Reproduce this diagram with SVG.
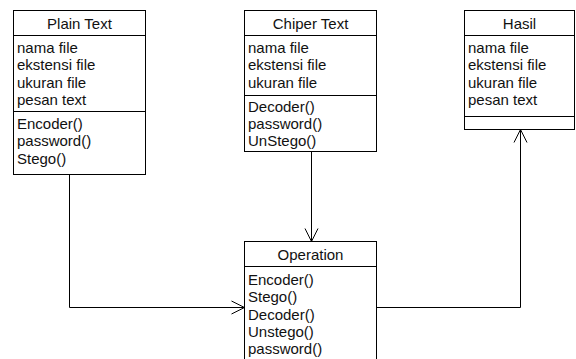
<svg xmlns="http://www.w3.org/2000/svg" width="576" height="359" viewBox="0 0 576 359">
  <style>
    .box { fill: #ffffff; stroke: #000000; stroke-width: 1; }
    .div { stroke: #000000; stroke-width: 1; fill: none; }
    .title { font-family: "Liberation Sans", Arial, sans-serif; font-size: 15px; fill: #111111; text-anchor: middle; }
    .item { font-family: "Liberation Sans", Arial, sans-serif; font-size: 15px; fill: #111111; }
    .link { stroke: #000000; stroke-width: 1; fill: none; }
  </style>
  <defs>
    <marker id="open" markerUnits="userSpaceOnUse" markerWidth="16" markerHeight="16" refX="0" refY="0" viewBox="-15 -8 16 16" orient="auto" overflow="visible">
      <path d="M-13,-6.5 L0,0 L-13,6.5" fill="none" stroke="#000000" stroke-width="1"/>
    </marker>
  </defs>

  <rect width="576" height="359" fill="#ffffff"/>

  <!-- connectors -->
  <g id="connectors">
    <path class="link" d="M69.5,174.5 V307.5 H244.5" marker-end="url(#open)"/>
    <path class="link" d="M311.5,151.5 V241.5" marker-end="url(#open)"/>
    <path class="link" d="M376.5,307.5 H520.5 V129.5" marker-end="url(#open)"/>
  </g>

  <!-- class: Plain Text -->
  <g id="plain-text">
    <rect class="box" x="13.5" y="10.5" width="132" height="164"/>
    <line class="div" x1="13.5" y1="35.5" x2="145.5" y2="35.5"/>
    <line class="div" x1="13.5" y1="111.5" x2="145.5" y2="111.5"/>
    <text class="title" x="79.5" y="29">Plain Text</text>
    <text class="item" x="17" y="53">nama file</text>
    <text class="item" x="17" y="70.3">ekstensi file</text>
    <text class="item" x="17" y="87.6">ukuran file</text>
    <text class="item" x="17" y="105">pesan text</text>
    <text class="item" x="17" y="129">Encoder()</text>
    <text class="item" x="17" y="146.3">password()</text>
    <text class="item" x="17" y="163.6">Stego()</text>
  </g>

  <!-- class: Chiper Text -->
  <g id="chiper-text">
    <rect class="box" x="244.5" y="10.5" width="132" height="141"/>
    <line class="div" x1="244.5" y1="35.5" x2="376.5" y2="35.5"/>
    <line class="div" x1="244.5" y1="95.5" x2="376.5" y2="95.5"/>
    <text class="title" x="310.5" y="29">Chiper Text</text>
    <text class="item" x="248" y="53">nama file</text>
    <text class="item" x="248" y="70.3">ekstensi file</text>
    <text class="item" x="248" y="87.6">ukuran file</text>
    <text class="item" x="248" y="111.5">Decoder()</text>
    <text class="item" x="248" y="128.8">password()</text>
    <text class="item" x="248" y="146">UnStego()</text>
  </g>

  <!-- class: Hasil -->
  <g id="hasil">
    <rect class="box" x="464.5" y="10.5" width="110" height="119"/>
    <line class="div" x1="464.5" y1="35.5" x2="574.5" y2="35.5"/>
    <line class="div" x1="464.5" y1="116.5" x2="574.5" y2="116.5"/>
    <text class="title" x="519.5" y="29">Hasil</text>
    <text class="item" x="468" y="53">nama file</text>
    <text class="item" x="468" y="70.3">ekstensi file</text>
    <text class="item" x="468" y="87.6">ukuran file</text>
    <text class="item" x="468" y="105">pesan text</text>
  </g>

  <!-- class: Operation -->
  <g id="operation">
    <rect class="box" x="244.5" y="241.5" width="132" height="130"/>
    <line class="div" x1="244.5" y1="266.5" x2="376.5" y2="266.5"/>
    <text class="title" x="310.5" y="260">Operation</text>
    <text class="item" x="248" y="285">Encoder()</text>
    <text class="item" x="248" y="302.3">Stego()</text>
    <text class="item" x="248" y="319.6">Decoder()</text>
    <text class="item" x="248" y="337">Unstego()</text>
    <text class="item" x="248" y="354.3">password()</text>
  </g>
</svg>
